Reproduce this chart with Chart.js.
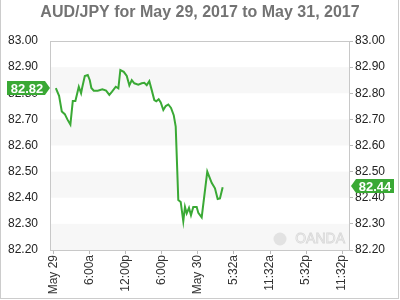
<!DOCTYPE html>
<html>
<head>
<meta charset="utf-8">
<script src="https://cdn.jsdelivr.net/npm/chart.js@4"></script>
<style>
  html, body { margin: 0; padding: 0; background: #fff; }
  #wrap { width: 400px; height: 300px; }
</style>
</head>
<body>
<div id="wrap"><canvas id="fxChart" width="400" height="300"></canvas></div>
<script>
// hours since May 29 00:00
var hours = [0.37, 0.91, 1.36, 1.86, 2.29, 2.79, 3.19, 3.62, 4.19, 4.57, 4.74, 5.19, 5.68, 6.02, 6.28, 6.68,
  7.35, 8.11, 8.73, 9.27, 9.72, 10.34, 10.77, 11.1, 11.67, 12.17, 12.6, 13.0, 13.43, 14.09, 14.66, 15.09,
  15.49, 15.92, 16.32, 16.75, 17.08, 17.48, 17.82, 18.25, 18.65, 19.08, 19.53, 19.98, 20.31, 20.74, 21.14,
  21.57, 21.85, 22.14, 22.52, 22.85, 23.23, 23.8, 24.07, 24.63, 25.56, 26.29, 26.84, 27.29, 27.67, 28.12];
var prices = [82.82, 82.79, 82.73, 82.72, 82.70, 82.68, 82.77, 82.77, 82.825, 82.80, 82.82, 82.866, 82.87, 82.85, 82.82, 82.81,
  82.81, 82.815, 82.81, 82.794, 82.806, 82.825, 82.819, 82.889, 82.882, 82.866, 82.83, 82.85, 82.838, 82.833, 82.838, 82.84,
  82.831, 82.846, 82.812, 82.774, 82.769, 82.777, 82.765, 82.736, 82.751, 82.757, 82.744, 82.716, 82.672, 82.391, 82.384,
  82.31, 82.365, 82.34, 82.361, 82.333, 82.365, 82.365, 82.342, 82.325, 82.50, 82.457, 82.436, 82.395, 82.397, 82.44];
var tickHours = [0, 6, 12, 18, 24, 30, 36, 42, 48];
var tickLabels = ['May 29', '6:00a', '12:00p', '6:00p', 'May 30', '5:32a', '11:32a', '5:32p', '11:32p'];
var yMin = 82.2, yMax = 83.0;

var green = '#3aa935';
var font = '"Liberation Sans", Arial, sans-serif';

var points = hours.map(function (h, i) { return { x: h, y: prices[i] }; });

// 灰色條紋、外框、標題、價格標籤
var decor = {
  id: 'decor',
  beforeDatasetsDraw: function (chart) {
    var c = chart.ctx, a = chart.chartArea, y = chart.scales.y;
    c.save();
    c.fillStyle = '#f7f7f7';
    for (var v = 82.2; v < 83.0; v += 0.2) {
      var top = y.getPixelForValue(v + 0.1), bot = y.getPixelForValue(v);
      c.fillRect(a.left, top, a.right - a.left, bot - top);
    }
    // watermark
    c.strokeStyle = '#d8d8d8';
    c.fillStyle = '#e2e2e2';
    c.lineWidth = 1.5;
    c.beginPath();
    c.arc(280, 239, 6.5, 0, Math.PI * 2);
    c.fill();
    c.font = '14px ' + font;
    c.textAlign = 'right';
    c.textBaseline = 'middle';
    c.lineWidth = 0.8;
    c.strokeText('OANDA', 345, 239);
    c.restore();
  },
  afterDraw: function (chart) {
    var c = chart.ctx, a = chart.chartArea, y = chart.scales.y;
    c.save();
    c.strokeStyle = '#c8c8c8';
    c.lineWidth = 1;
    c.strokeRect(a.left + 0.5, a.top + 0.5, a.right - a.left - 1, a.bottom - a.top);
    c.strokeStyle = '#cccccc';
    c.strokeRect(0.5, -1, 398, 299.5);

    c.fillStyle = '#737373';
    c.font = 'bold 16px ' + font;
    c.textAlign = 'center';
    c.textBaseline = 'middle';
    c.fillText('AUD/JPY for May 29, 2017 to May 31, 2017', 200, 13);

    // left tag (first price)
    var y0 = Math.round(y.getPixelForValue(prices[0]));
    c.fillStyle = green;
    c.beginPath();
    c.moveTo(7, y0 - 7); c.lineTo(45, y0 - 7); c.lineTo(50, y0);
    c.lineTo(45, y0 + 7); c.lineTo(7, y0 + 7); c.closePath();
    c.fill();
    // right tag (last price)
    var last = prices[prices.length - 1];
    var y1 = Math.round(y.getPixelForValue(last)) - 1;
    c.beginPath();
    c.moveTo(394, y1 - 7); c.lineTo(356, y1 - 7); c.lineTo(351, y1);
    c.lineTo(356, y1 + 7); c.lineTo(394, y1 + 7); c.closePath();
    c.fill();
    c.fillStyle = '#fff';
    c.font = 'bold 13px ' + font;
    c.textAlign = 'center';
    c.fillText(prices[0].toFixed(2), 27, y0 + 1);
    c.fillText(last.toFixed(2), 375, y1 + 1);
    c.restore();
  }
};

new Chart(document.getElementById('fxChart'), {
  type: 'line',
  data: {
    datasets: [{
      data: points,
      borderColor: green,
      borderWidth: 2,
      pointRadius: 0,
      tension: 0,
      fill: false
    }]
  },
  options: {
    responsive: false,
    animation: false,
    layout: { padding: { top: 41, bottom: 2, left: 0, right: 0 } },
    plugins: { legend: { display: false }, title: { display: false }, tooltip: { enabled: false } },
    scales: {
      x: {
        type: 'linear',
        min: -0.6,
        max: 49.3,
        afterBuildTicks: function (s) { s.ticks = tickHours.map(function (h) { return { value: h }; }); },
        afterFit: function (s) { s.height = 48; },
        grid: { drawOnChartArea: false, color: '#bbbbbb', tickLength: 4 },
        border: { display: false },
        ticks: {
          minRotation: 90, maxRotation: 90, autoSkip: false, padding: 1,
          color: '#333', font: { family: font, size: 12 },
          callback: function (v) { var i = tickHours.indexOf(v); return i < 0 ? '' : tickLabels[i]; }
        }
      },
      y: {
        position: 'left',
        min: yMin, max: yMax,
        afterFit: function (s) { s.width = 50; },
        grid: { display: false },
        border: { display: false },
        ticks: {
          stepSize: 0.1, padding: 4, color: '#222', font: { family: font, size: 12 },
          callback: function (v) { return v.toFixed(2); }
        }
      },
      y2: {
        position: 'right',
        min: yMin, max: yMax,
        afterFit: function (s) { s.width = 50; },
        grid: { drawOnChartArea: false, color: '#bbbbbb', tickLength: 3 },
        border: { display: false },
        ticks: {
          stepSize: 0.1, padding: 2, color: '#222', font: { family: font, size: 12 },
          callback: function (v) { return v.toFixed(2); }
        }
      }
    }
  },
  plugins: [decor]
});
</script>
</body>
</html>
